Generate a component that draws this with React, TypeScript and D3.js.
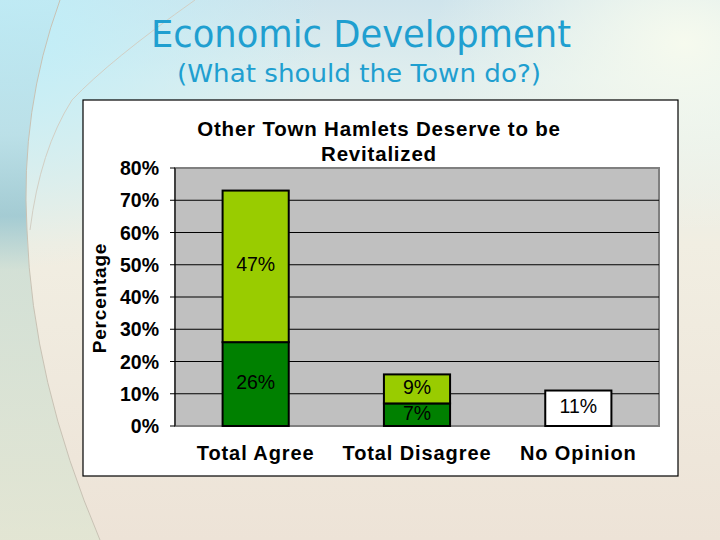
import React from "react";
import * as d3 from "d3";

const categories = ["Total Agree", "Total Disagree", "No Opinion"];
const stronglyValues = [26, 7, 0];
const somewhatValues = [47, 9, 0];
const noOpinionValues = [0, 0, 11];
const seriesKeys = ["strongly", "somewhat", "noOpinion"];
const seriesColors = ["#008000", "#99CC00", "#FFFFFF"];
const yTicks = [0, 10, 20, 30, 40, 50, 60, 70, 80];
const chartTitle = ["Other Town Hamlets Deserve to be", "Revitalized"];
const slideTitle = "Economic Development";
const slideSubtitle = "(What should the Town do?)";
const yAxisTitle = "Percentage";

const W = 720, H = 540;
const plot = { left: 175, right: 659, top: 168, bottom: 426 };
const box = { left: 83, right: 678, top: 100, bottom: 476 };

export default function App() {
  const rows = categories.map((c, i) => ({
    cat: c,
    strongly: stronglyValues[i],
    somewhat: somewhatValues[i],
    noOpinion: noOpinionValues[i],
  }));
  const stacked = d3.stack<any>().keys(seriesKeys)(rows);
  const x = d3.scaleBand<string>().domain(categories).range([plot.left, plot.right]).paddingInner(0.59).paddingOuter(0.295);
  const y = d3.scaleLinear().domain([0, 80]).range([plot.bottom, plot.top]);
  const font = "'Liberation Sans', Arial, sans-serif";

  return (
    <svg width={W} height={H} style={{ position: "absolute", left: 0, top: 0 }} xmlns="http://www.w3.org/2000/svg">
      <defs>
        <linearGradient id="bgV" x1="0" y1="0" x2="0" y2="1">
          <stop offset="0" stopColor="#cfe4ec" />
          <stop offset="0.15" stopColor="#e0eeee" />
          <stop offset="0.45" stopColor="#f1eee2" />
          <stop offset="1" stopColor="#ede3d7" />
        </linearGradient>
        <radialGradient id="tl" cx="0" cy="0.05" r="0.45">
          <stop offset="0" stopColor="#bfeef8" stopOpacity="1" />
          <stop offset="1" stopColor="#bfeef8" stopOpacity="0" />
        </radialGradient>
        <radialGradient id="tr" cx="0.95" cy="0.08" r="0.35">
          <stop offset="0" stopColor="#f6faee" stopOpacity="1" />
          <stop offset="1" stopColor="#f6faee" stopOpacity="0" />
        </radialGradient>
        <linearGradient id="leftBand" x1="0" y1="0" x2="0" y2="1">
          <stop offset="0" stopColor="#bfe9f3" />
          <stop offset="0.25" stopColor="#b4dbe4" />
          <stop offset="0.4" stopColor="#8fc0cc" />
          <stop offset="0.5" stopColor="#c9dcd2" />
          <stop offset="1" stopColor="#dfe6d2" />
        </linearGradient>
      </defs>
      <rect x={0} y={0} width={W} height={H} fill="url(#bgV)" />
      <rect x={0} y={0} width={W} height={H} fill="url(#tl)" />
      <rect x={0} y={0} width={W} height={H} fill="url(#tr)" />
      <path d="M0,0 L60,0 Q20,110 27,230 Q32,380 100,540 L0,540 Z" fill="url(#leftBand)" opacity={0.75} />
      <path d="M60,0 Q20,110 27,230 Q32,380 100,540" fill="none" stroke="#c8c2b4" strokeWidth={1} />
      <path d="M195,0 Q110,60 72,100 Q40,150 30,230" fill="none" stroke="#d2cfc4" strokeWidth={1} />

      <text x={361} y={47} textAnchor="middle" fill="#1f9fd0" fontFamily="'Comic Sans MS', 'DejaVu Sans', sans-serif" fontSize={38} textLength={420} lengthAdjust="spacingAndGlyphs">{slideTitle}</text>
      <text x={359} y={82} textAnchor="middle" fill="#1f9fd0" fontFamily="'Comic Sans MS', 'DejaVu Sans', sans-serif" fontSize={25} textLength={364} lengthAdjust="spacingAndGlyphs">{slideSubtitle}</text>

      <rect x={box.left} y={box.top} width={box.right - box.left} height={box.bottom - box.top} fill="#ffffff" stroke="#000" strokeWidth={1.2} />

      {chartTitle.map((t, i) => (
        <text key={i} x={379} y={136 + i * 25} textAnchor="middle" fontFamily={font} fontWeight="bold" fontSize={20.5} letterSpacing={0.8} fill="#000">{t}</text>
      ))}

      <rect x={plot.left} y={plot.top} width={plot.right - plot.left} height={plot.bottom - plot.top} fill="#C0C0C0" stroke="#808080" strokeWidth={2} />
      {yTicks.filter(t => t > 0 && t < 80).map(t => (
        <line key={t} x1={plot.left} x2={plot.right} y1={y(t)} y2={y(t)} stroke="#000" strokeWidth={1} />
      ))}
      <line x1={plot.left} x2={plot.right} y1={y(0)} y2={y(0)} stroke="#808080" strokeWidth={1} />
      <line x1={plot.left} x2={plot.left} y1={plot.top} y2={plot.bottom} stroke="#000" strokeWidth={1} />
      {yTicks.map(t => (
        <g key={t}>
          <line x1={plot.left - 5} x2={plot.left} y1={y(t)} y2={y(t)} stroke="#000" strokeWidth={1} />
          <text x={159} y={y(t)} dy="0.36em" textAnchor="end" fontFamily={font} fontWeight="bold" fontSize={19.5} fill="#000">{t}%</text>
        </g>
      ))}

      {stacked.map((s, si) => (
        <g key={s.key}>
          {s.map((d, i) => {
            const v = d[1] - d[0];
            if (v <= 0) return null;
            const x0 = x(categories[i])!;
            const bw = x.bandwidth();
            return (
              <g key={i}>
                <rect x={x0} y={y(d[1])} width={bw} height={y(d[0]) - y(d[1])} fill={seriesColors[si]} stroke="#000" strokeWidth={2} />
                <text x={x0 + bw / 2} y={(y(d[0]) + y(d[1])) / 2 - 2} dy="0.36em" textAnchor="middle" fontFamily={font} fontSize={19.5} fill="#000">{v}%</text>
              </g>
            );
          })}
        </g>
      ))}

      {categories.map(c => (
        <text key={c} x={x(c)! + x.bandwidth() / 2} y={460} textAnchor="middle" fontFamily={font} fontWeight="bold" fontSize={20} letterSpacing={0.9} fill="#000">{c}</text>
      ))}

      <text transform={`translate(106,${(plot.top + plot.bottom) / 2 + 1}) rotate(-90)`} textAnchor="middle" fontFamily={font} fontWeight="bold" fontSize={19} letterSpacing={0.8} fill="#000">{yAxisTitle}</text>
    </svg>
  );
}
